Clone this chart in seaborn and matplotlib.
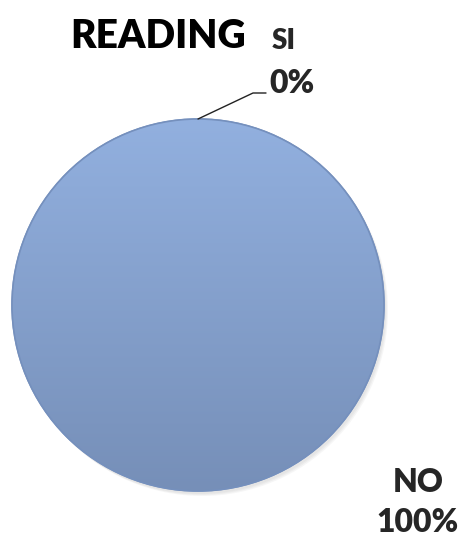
import numpy as np
import matplotlib.pyplot as plt
import matplotlib.patches as mpatches
import seaborn as sns

sns.set_theme(style="white")
plt.rcParams['font.family'] = ['Lato', 'DejaVu Sans']

# data
categories = ["SI", "NO"]
values = [0, 100]
pct_labels = ["0%", "100%"]
title = "READING"

fig = plt.figure(figsize=(4.62, 5.37), dpi=100)
ax = fig.add_axes([0, 0, 1, 1])

cx, cy, r = 198, 305, 186

# soft shadow
for i in range(3):
    ax.add_patch(mpatches.Circle((cx + 2 + i, cy + 3 + i), r, color="#555555", alpha=0.05, lw=0, zorder=0))

wedges, _ = ax.pie(values, center=(cx, cy), radius=r, startangle=90, counterclock=False,
                   colors=["#8eaadb", "#8eaadb"], wedgeprops=dict(edgecolor="#7a94c0", linewidth=1),
                   frame=True)
ax.set_xlim(0, 462)
ax.set_ylim(537, 0)
ax.axis("off")

# vertical gradient fill
grad = np.linspace(0, 1, 256).reshape(-1, 1)
top = np.array([0x92, 0xb0, 0xdf]) / 255
bot = np.array([0x76, 0x8f, 0xb8]) / 255
img = top + (bot - top) * grad[..., None]
img = np.repeat(img, 2, axis=1)
im = ax.imshow(img, extent=(cx - r, cx + r, cy + r, cy - r), origin="upper", zorder=1.5, aspect="auto")
im.set_clip_path(wedges[1])
ax.add_patch(mpatches.Circle((cx, cy), r, fill=False, ec="#7590bd", lw=1.2, zorder=2))

fw = "heavy"
# title
ax.text(70, 48, title, fontsize=28, fontweight=fw, ha="left", va="baseline", color="black")

# SI label with leader line from the zero slice
w = wedges[0]
ang = np.deg2rad(w.theta1)
px, py = cx + r * np.cos(ang), cy - r * np.sin(ang)
ax.plot([px, 253, 266], [py, 93, 93], color="#222222", lw=1, zorder=3)
ax.text(272, 49, categories[0], fontsize=20, fontweight=fw, ha="left", va="baseline")
ax.text(269, 93, pct_labels[0], fontsize=23, fontweight=fw, ha="left", va="baseline")

# NO label
ax.text(418, 492, categories[1], fontsize=23, fontweight=fw, ha="center", va="baseline")
ax.text(418, 532, pct_labels[1], fontsize=23, fontweight=fw, ha="center", va="baseline")

fig.savefig("out.png", dpi=100)
